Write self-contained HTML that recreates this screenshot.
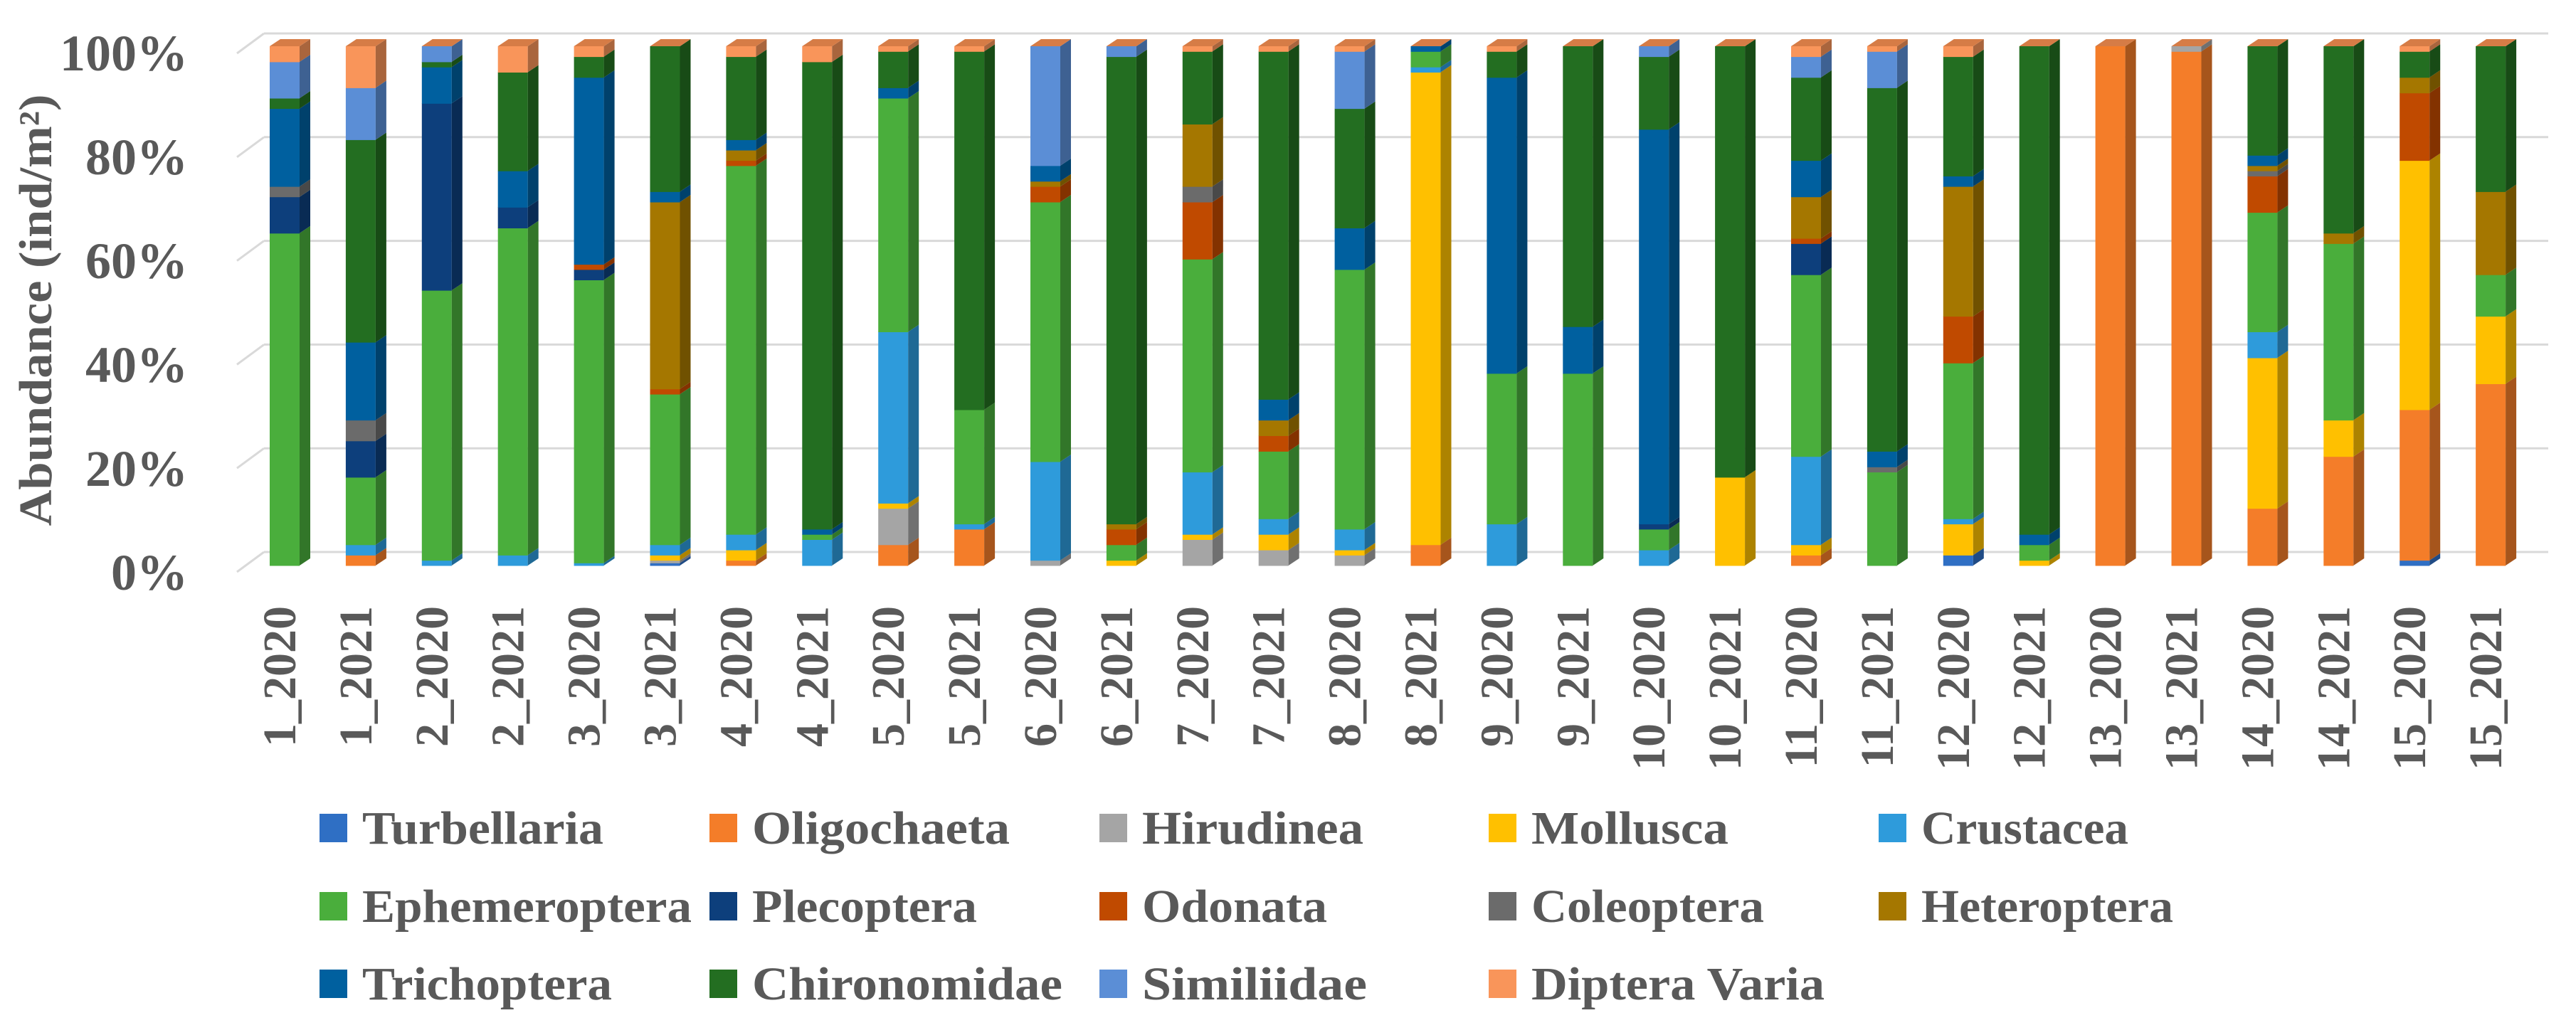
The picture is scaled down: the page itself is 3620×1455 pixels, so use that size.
<!DOCTYPE html>
<html><head><meta charset="utf-8"><style>
html,body{margin:0;padding:0;background:#fff;}
svg{display:block;}
text{font-family:"Liberation Serif",serif;font-weight:bold;fill:#595959;}
</style></head><body>
<svg id="chart" width="3620" height="1455" viewBox="0 0 3620 1455" xmlns="http://www.w3.org/2000/svg">
<g id="grid"></g>
<g id="yticks"></g>
<text transform="translate(72,436) rotate(-90)" text-anchor="middle" font-size="66" textLength="607" lengthAdjust="spacingAndGlyphs">Abundance (ind/m²)</text>
<g id="bars"></g>
<g id="xlabels"></g>
<g id="legend"></g>
</svg>
<script>
const categories=["1_2020","1_2021","2_2020","2_2021","3_2020","3_2021","4_2020","4_2021","5_2020","5_2021","6_2020","6_2021","7_2020","7_2021","8_2020","8_2021","9_2020","9_2021","10_2020","10_2021","11_2020","11_2021","12_2020","12_2021","13_2020","13_2021","14_2020","14_2021","15_2020","15_2021"];
const seriesNames=["Turbellaria","Oligochaeta","Hirudinea","Mollusca","Crustacea","Ephemeroptera","Plecoptera","Odonata","Coleoptera","Heteroptera","Trichoptera","Chironomidae","Similiidae","Diptera Varia"];
const turbellaria=[0,0,0,0,0,0.5,0,0,0,0,0,0,0,0,0,0,0,0,0,0,0,0,2,0,0,0,0,0,1,0];
const oligochaeta=[0,2,0,0,0,0,1,0,4,7,0,0,0,0,0,4,0,0,0,0,2,0,0,0,100,99,11,21,29,35];
const hirudinea=[0,0,0,0,0,0.5,0,0,7,0,1,0,5,3,2,0,0,0,0,0,0,0,0,0,0,1,0,0,0,0];
const mollusca=[0,0,0,0,0,1,2,0,1,0,0,1,1,3,1,91,0,0,0,17,2,0,6,1,0,0,29,7,48,13];
const crustacea=[0,2,1,2,0.5,2,3,5,33,1,19,0,12,3,4,1,8,0,3,0,17,0,1,0,0,0,5,0,0,0];
const ephemeroptera=[64,13,52,63,54.5,29,71,1,45,22,50,3,41,13,50,3,29,37,4,0,35,18,30,3,0,0,23,34,0,8];
const plecoptera=[7,7,36,4,2,0,0,0,0,0,0,0,0,0,0,0,0,0,1,0,6,0,0,0,0,0,0,0,0,0];
const odonata=[0,0,0,0,1,1,1,0,0,0,3,3,11,3,0,0,0,0,0,0,1,0,9,0,0,0,7,0,13,0];
const coleoptera=[2,4,0,0,0,0,0,0,0,0,0,0,3,0,0,0,0,0,0,0,0,1,0,0,0,0,1,0,0,0];
const heteroptera=[0,0,0,0,0,36,2,0,0,0,1,1,12,3,0,0,0,0,0,0,8,0,25,0,0,0,1,2,3,16];
const trichoptera=[15,15,7,7,36,2,2,1,2,0,3,0,0,4,8,1,57,9,76,0,7,3,2,2,0,0,2,0,0,0];
const chironomidae=[2,39,1,19,4,28,16,90,7,69,0,90,14,67,23,0,5,54,14,83,16,70,23,94,0,0,21,36,5,28];
const similiidae=[7,10,3,0,0,0,0,0,0,0,23,2,0,0,11,0,0,0,2,0,4,7,0,0,0,0,0,0,0,0];
const dipteraVaria=[3,8,0,5,2,0,2,3,1,1,0,0,1,1,1,0,1,0,0,0,2,1,2,0,0,0,0,0,1,0];
const yTicks=[0,20,40,60,80,100];
const yTickLabels=["0%","20%","40%","60%","80%","100%"];

const series=[turbellaria,oligochaeta,hirudinea,mollusca,crustacea,ephemeroptera,plecoptera,odonata,coleoptera,heteroptera,trichoptera,chironomidae,similiidae,dipteraVaria];
const colors=["#2f6fc4","#f47d29","#a5a5a5","#ffc000","#2e9bdb","#4aae3c","#0d3f7c","#c04a00","#6b6b6b","#a57700","#00609f","#236e21","#5b8ed6","#f9955a"];
const legendWidths=[339,362,311,277,291,463,316,260,327,354,351,436,316,412];
const NS="http://www.w3.org/2000/svg";
function mk(t,a){const e=document.createElementNS(NS,t);for(const k in a)e.setAttribute(k,a[k]);return e;}
function shade(hex,f){const n=parseInt(hex.slice(1),16);let r=(n>>16)&255,g=(n>>8)&255,b=n&255;r=Math.round(r*f);g=Math.round(g*f);b=Math.round(b*f);return "rgb("+r+","+g+","+b+")";}
const yFront=v=>795-v*7.3;
const yBack=v=>776-v*7.29;
const xBar=i=>379+i*106.9;
const BW=42,DX=15,DY=10;

const grid=document.getElementById('grid');
const yt=document.getElementById('yticks');
yTicks.forEach((v,k)=>{
  const y=yBack(v);
  const l=mk('line',{x1:371,y1:y,x2:3581,y2:y,stroke:'#d9d9d9','stroke-width':3});
  
  
  grid.appendChild(l);
  const d=mk('line',{x1:333,y1:y+28,x2:371,y2:y,stroke:'#d9d9d9','stroke-width':3});
  
  
  grid.appendChild(d);
  const t=mk('text',{x:264,y:yFront(v)+34,'text-anchor':'end','font-size':72,'font-weight':'normal'});
  t.textContent=yTickLabels[k];
  
  
  yt.appendChild(t);
});

const bars=document.getElementById('bars');
const xl=document.getElementById('xlabels');
categories.forEach((c,i)=>{
  const g=mk('g',{});
  
  
  let total=0;series.forEach(s=>total+=s[i]);
  let cum=0;const x=xBar(i);
  series.forEach((s,j)=>{
    const v=s[i];if(v<=0)return;
    const v0=cum/total*100,v1=(cum+v)/total*100;cum+=v;
    const y0=yFront(v0),y1=yFront(v1);
    const r=mk('rect',{x:x,y:y1,width:BW,height:y0-y1+0.5,fill:colors[j]});
    
    
    g.appendChild(r);
    const p=mk('polygon',{points:[x+BW,y0,x+BW+DX,y0-DY,x+BW+DX,y1-DY,x+BW,y1].join(' '),fill:shade(colors[j],0.68)});
    
    
    g.appendChild(p);
  });
  const yt0=yFront(100);
  const top=mk('polygon',{points:[x,yt0,x+DX,yt0-DY,x+BW+DX,yt0-DY,x+BW,yt0].join(' '),fill:'#d67c46'});
  
  
  g.appendChild(top);
  bars.appendChild(g);
  const cx=x+BW/2-8;
  const t=mk('text',{transform:'translate('+(cx+23)+',852) rotate(-90)','text-anchor':'end','font-size':66});
  t.textContent=c;
  
  
  xl.appendChild(t);
});

const lg=document.getElementById('legend');
const colX=[449,997,1545,2092,2640];
const rowY=[1164,1274,1383];
seriesNames.forEach((n,j)=>{
  const col=j%5,row=Math.floor(j/5);
  const g=mk('g',{});
  
  
  const r=mk('rect',{x:colX[col],y:rowY[row]-20,width:39,height:40,fill:colors[j]});
  
  
  g.appendChild(r);
  const t=mk('text',{x:colX[col]+60,y:rowY[row]+22,'font-size':66,textLength:legendWidths[j],lengthAdjust:'spacingAndGlyphs'});
  t.textContent=n;
  
  
  g.appendChild(t);
  lg.appendChild(g);
});
</script>
</body></html>
